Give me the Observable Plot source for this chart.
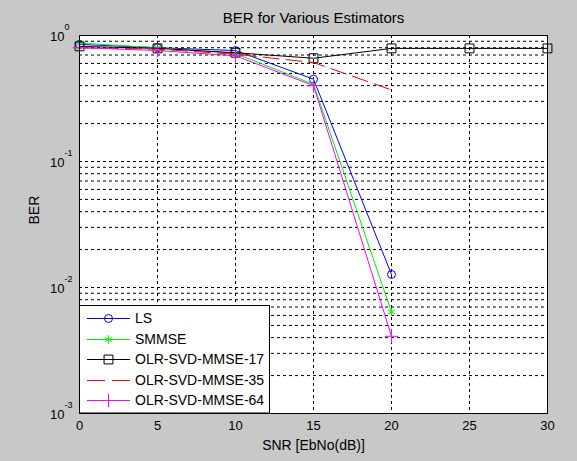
<!DOCTYPE html>
<html><head><meta charset="utf-8">
<script src="https://cdn.jsdelivr.net/npm/d3@7"></script>
<script src="https://cdn.jsdelivr.net/npm/@observablehq/plot@0.6"></script>
<style>body{margin:0;background:#c8c8c8;overflow:hidden}</style>
</head><body><div id="chart"></div>
<script>
// ---- data ----
const snr = [0, 5, 10, 15, 20, 25, 30];
const seriesNames = ["LS", "SMMSE", "OLR-SVD-MMSE-17", "OLR-SVD-MMSE-35", "OLR-SVD-MMSE-64"];
const lsBER    = [0.85, 0.80, 0.76, 0.45, 0.0127];
const smmseBER = [0.87, 0.80, 0.72, 0.41, 0.0064];
const olr17BER = [0.82, 0.79, 0.73, 0.66, 0.79, 0.79, 0.79];
const olr35BER = [0.80, 0.78, 0.71, 0.61, 0.37];
const olr64BER = [0.80, 0.76, 0.69, 0.40, 0.0041];
const xTicks = [0, 5, 10, 15, 20, 25, 30];
const yDecades = [1e-3, 1e-2, 1e-1, 1];
const yExponents = ["-3", "-2", "-1", "0"];
const titleText = "BER for Various Estimators";
const xLabel = "SNR [EbNo(dB)]";
const yLabel = "BER";

// ---- styles ----
const styles = [
  {color: "#0000ff", symbol: "circle", r: 4, dash: null},
  {color: "#00ee00", symbol: "asterisk", r: 4, dash: null},
  {color: "#000000", symbol: "square", r: 5, dash: null},
  {color: "#ff0000", symbol: null, r: 0, dash: "16,7"},
  {color: "#ff00ff", symbol: "plus", r: 4.5, dash: null}
];
const allValues = [lsBER, smmseBER, olr17BER, olr35BER, olr64BER];
const series = seriesNames.map((name, k) => ({name, ...styles[k],
  rows: allValues[k].map((v, i) => ({snr: snr[i], ber: v}))}));

const gridY = yDecades.slice(0, -1).flatMap(d => d3.range(1, 10).map(k => k * d));
const decadeRows = yDecades.map((d, i) => ({v: d, e: yExponents[i]}));

const font = "Liberation Sans, Arial, Helvetica, sans-serif";
const seriesMarks = series.flatMap(s => {
  const m = [Plot.line(s.rows, {x: "snr", y: "ber", stroke: s.color, strokeWidth: 1, strokeDasharray: s.dash})];
  if (s.symbol) m.push(Plot.dot(s.rows, {x: "snr", y: "ber", symbol: s.symbol, r: s.r, stroke: s.color, fill: "none", strokeWidth: 1}));
  return m;
});

const plot = Plot.plot({
  width: 577, height: 461,
  marginLeft: 79, marginRight: 30, marginTop: 35, marginBottom: 48,
  style: {background: "#c8c8c8", fontFamily: font, fontSize: "13px", color: "black", overflow: "visible"},
  x: {domain: [0, 30], axis: null},
  y: {type: "log", domain: [1e-3, 1], axis: null},
  marks: [
    Plot.frame({fill: "white"}),
    Plot.ruleY(gridY.slice(1), {y: d => d, stroke: "black", strokeWidth: 1, strokeDasharray: "3,3"}),
    Plot.ruleX(xTicks.slice(1, -1), {x: d => d, stroke: "black", strokeWidth: 1, strokeDasharray: "3,3"}),
    ...seriesMarks,
    Plot.frame({stroke: "black", strokeWidth: 1}),
    Plot.text(xTicks, {x: d => d, frameAnchor: "bottom", dy: 12, text: d => String(d), lineAnchor: "middle", fontSize: 13, fill: "black"}),
    Plot.text(decadeRows, {y: "v", frameAnchor: "left", dx: -15, text: () => "10", textAnchor: "end", lineAnchor: "middle", dy: 1, fontSize: 13, fill: "black"}),
    Plot.text(decadeRows, {y: "v", frameAnchor: "left", dx: -15, text: "e", textAnchor: "start", lineAnchor: "middle", dy: -8, fontSize: 9, fill: "black"}),
    Plot.text([titleText], {frameAnchor: "top", dy: -17, text: d => d, lineAnchor: "middle", fontSize: 15, fill: "black"}),
    Plot.text([xLabel], {frameAnchor: "bottom", dy: 32, text: d => d, lineAnchor: "middle", fontSize: 14, fill: "black"}),
    Plot.text([yLabel], {frameAnchor: "left", dx: -45, rotate: -90, text: d => d, lineAnchor: "middle", fontSize: 14, fill: "black"})
  ]
});
document.getElementById("chart").appendChild(plot);

// ---- legend ----
const svg = d3.select(plot);
const lg = svg.append("g").attr("font-family", font).attr("font-size", 14).attr("text-anchor", "start");
const lx = 79.5, ly = 305.5, lw = 190, lh = 107.5;
lg.append("rect").attr("x", lx).attr("y", ly).attr("width", lw).attr("height", lh)
  .attr("fill", "white").attr("stroke", "black").attr("stroke-width", 1);
const symMap = {circle: d3.symbolCircle, asterisk: d3.symbolAsterisk, square: d3.symbolSquare, plus: d3.symbolPlus};
series.forEach((s, i) => {
  const yy = Math.round(318 + i * 20.6) + 0.5;
  lg.append("line").attr("x1", 87).attr("x2", 130).attr("y1", yy).attr("y2", yy)
    .attr("stroke", s.color).attr("stroke-width", 1)
    .attr("stroke-dasharray", s.dash ? "18,7" : null);
  if (s.symbol) {
    lg.append("path").attr("d", d3.symbol(symMap[s.symbol], Math.PI * s.r * s.r)())
      .attr("transform", `translate(108.5,${yy})`)
      .attr("fill", "none").attr("stroke", s.color).attr("stroke-width", 1);
  }
  lg.append("text").attr("x", 135).attr("y", yy).attr("dy", "0.35em")
    .attr("text-anchor", "start").attr("fill", "black").text(s.name);
});
</script>
</body></html>
